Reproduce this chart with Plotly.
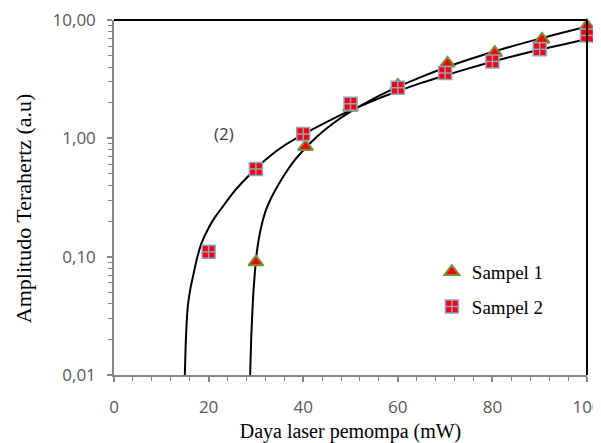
import math
import plotly.graph_objects as go

# Measured data points
p_s1 = [30, 40.5, 50, 60, 70.5, 80.5, 90.5, 100]
a_s1 = [0.09, 0.85, 1.82, 2.8, 4.3, 5.3, 6.85, 8.9]

p_s2 = [20, 30, 40, 50, 60, 70, 80, 90, 100]
a_s2 = [0.11, 0.55, 1.09, 1.96, 2.67, 3.56, 4.47, 5.65, 7.4]

# Fitted curves
p_fit1 = [28.75, 29.0, 29.4, 29.8, 30.2, 31.0, 32.0, 33.0, 34.5, 36.0, 38.0, 40.0, 43.0, 46.0,
          50.0, 55.0, 60.0, 65.0, 70.0, 75.0, 80.0, 85.0, 90.0, 95.0, 100.0]
a_fit1 = [0.009, 0.02, 0.045, 0.075, 0.11, 0.17, 0.24, 0.30, 0.39, 0.49, 0.64, 0.79, 1.04, 1.31,
          1.68, 2.18, 2.72, 3.31, 3.95, 4.63, 5.36, 6.13, 6.95, 7.85, 8.8]

p_fit2 = [14.95, 15.2, 15.6, 16.2, 16.7, 17.5, 18.5, 20.0, 21.5, 23.0, 25.0, 27.5, 30.0, 33.0,
          36.0, 40.0, 45.0, 50.0, 55.0, 60.0, 65.0, 70.0, 75.0, 80.0, 85.0, 90.0, 95.0, 100.0]
a_fit2 = [0.009, 0.02, 0.038, 0.055, 0.068, 0.095, 0.13, 0.175, 0.22, 0.265, 0.34, 0.44, 0.555, 0.71,
          0.87, 1.08, 1.38, 1.72, 2.1, 2.5, 2.94, 3.4, 3.9, 4.45, 5.02, 5.6, 6.22, 6.9]

names = ["Sampel 1", "Sampel 2"]
x_title = "Daya laser pemompa (mW)"
y_title = "Amplitudo Terahertz (a.u)"
label_text = "(2)"
label_pos = (23.2, 1.09)

fig = go.Figure()

fig.add_trace(go.Scatter(x=p_fit1, y=a_fit1, mode="lines", line=dict(color="black", width=2, shape="spline", smoothing=0.6),
                         showlegend=False, hoverinfo="skip"))
fig.add_trace(go.Scatter(x=p_fit2, y=a_fit2, mode="lines", line=dict(color="black", width=2, shape="spline", smoothing=0.6),
                         showlegend=False, hoverinfo="skip"))

fig.add_trace(go.Scatter(x=p_s1, y=a_s1, mode="markers", name=names[0], legendgroup="g1",
                         marker=dict(symbol="triangle-up", size=13, color="#FF0000",
                                     line=dict(color="#77933C", width=2)),
                         cliponaxis=False))
fig.add_trace(go.Scatter(x=p_s2, y=a_s2, mode="markers", name=names[1], legendgroup="g2",
                         marker=dict(symbol="square-cross", size=13, color="#FF0000",
                                     line=dict(color="#8EA4C8", width=1.5)),
                         cliponaxis=False))

fig.add_annotation(x=label_pos[0], y=math.log10(label_pos[1]), xref="x", yref="y", text=label_text,
                   showarrow=False, font=dict(family="Open Sans", size=17, color="#404040"))

# y axis title as annotation (placed slightly below centre, like the reference)
fig.add_annotation(x=0, y=0.47, xref="paper", yref="paper", xanchor="center", yanchor="middle",
                   xshift=-91, text=y_title, textangle=-90, showarrow=False,
                   font=dict(family="Liberation Serif", size=22, color="black"))

tick_font = dict(family="Open Sans", size=17, color="#595959")

fig.update_xaxes(range=[0, 100], dtick=20, tick0=0, showline=True, linecolor="#868686", linewidth=1.5,
                 ticks="outside", ticklen=5, tickcolor="#868686", tickwidth=1.5,
                 minor=dict(dtick=4, ticks="outside", ticklen=4, tickcolor="#868686", tickwidth=1, showgrid=False),
                 showgrid=False, zeroline=False, tickfont=tick_font, automargin=False,
                 ticklabelstandoff=11, ticklabeloverflow="allow",
                 title=dict(text=x_title, font=dict(family="Liberation Serif", size=20, color="black"), standoff=18))
fig.update_yaxes(type="log", range=[-2, 1], dtick=1, tickformat=".2f", showline=True, linecolor="#868686",
                 linewidth=1.5, ticks="outside", ticklen=5, tickcolor="#868686", tickwidth=1.5,
                 minor=dict(dtick="D1", ticks="outside", ticklen=4, tickcolor="#868686", tickwidth=1, showgrid=False),
                 showgrid=False, zeroline=False, tickfont=tick_font, automargin=False,
                 ticklabelstandoff=8, ticklabeloverflow="allow")

# black frame on top and right
fig.add_shape(type="line", xref="x domain", yref="y domain", x0=0, x1=1, y0=1, y1=1,
              line=dict(color="black", width=2))
fig.add_shape(type="line", xref="x domain", yref="y domain", x0=1, x1=1, y0=0, y1=1,
              line=dict(color="black", width=2))

fig.update_layout(
    width=593, height=435,
    margin=dict(l=106, r=14, t=12, b=68),
    paper_bgcolor="white", plot_bgcolor="white",
    separators=",.",
    legend=dict(x=0.672, y=0.344, xanchor="left", yanchor="top", bgcolor="rgba(0,0,0,0)",
                font=dict(family="Liberation Serif", size=19, color="black"),
                tracegroupgap=7, traceorder="grouped", itemwidth=30),
)

fig.write_html("out.html")
